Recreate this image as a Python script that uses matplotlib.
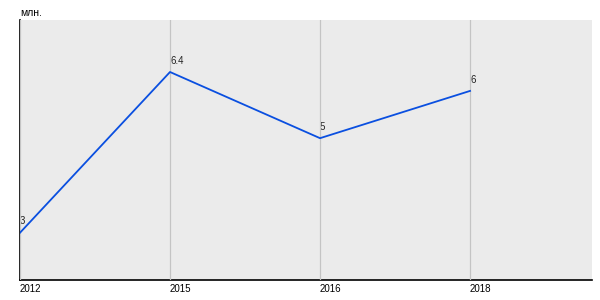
import matplotlib
matplotlib.use("Agg")
import matplotlib.pyplot as plt

years = ["2012", "2015", "2016", "2018"]
values = [3, 6.4, 5, 6]
unit_label = "млн."

plt.rcParams["font.family"] = ["Liberation Sans", "DejaVu Sans"]

fig = plt.figure(figsize=(6, 3), dpi=100)
ax = fig.add_axes([20 / 600, 20 / 300, 572 / 600, 260 / 300])
ax.set_facecolor("#ebebeb")

x = list(range(len(years)))
ax.plot(x, values, color="#0a4fe0", lw=1.3, zorder=3)

for xi, v in zip(x, values):
    txt = f"{v:g}"
    ax.annotate(txt, (xi, v), xytext=(0, 4.5), textcoords="offset points",
                ha="left", va="bottom", fontsize=7, color="#222222", zorder=1)

ax.set_xlim(0, 3.813)
ax.set_ylim(2, 7.5)
ax.set_xticks(x)
ax.set_xticklabels(years, fontsize=7, ha="left")
ax.set_yticks([])
ax.tick_params(axis="x", length=0, pad=3)
ax.set_axisbelow(False)
ax.grid(axis="x", color="#c4c4c4", lw=0.9)
for side in ("top", "right"):
    ax.spines[side].set_visible(False)
for side in ("left", "bottom"):
    ax.spines[side].set_color("black")
    ax.spines[side].set_linewidth(1.2)

fig.text(20 / 600, 1 - 13 / 300, unit_label, fontsize=7.5, ha="left", va="center")

fig.savefig("out.png", dpi=100, facecolor="white")
